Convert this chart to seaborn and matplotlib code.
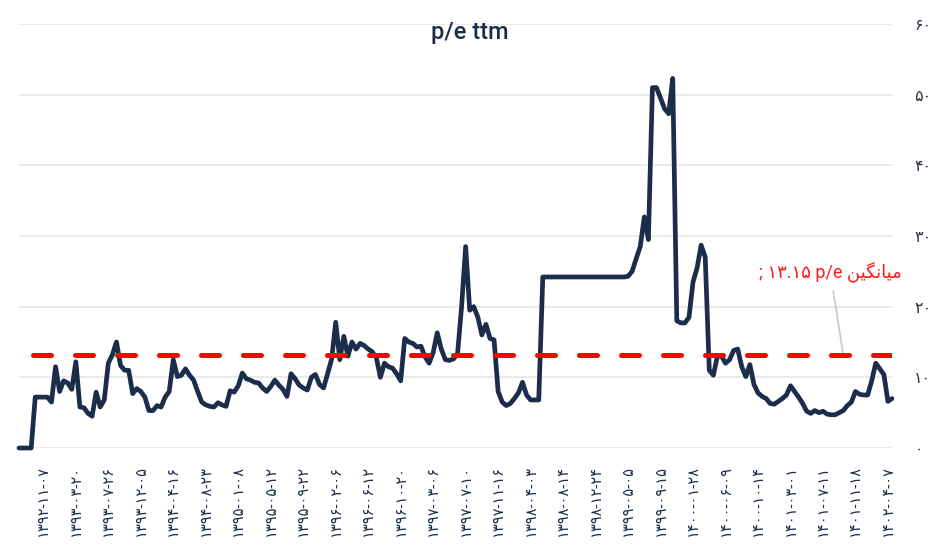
import matplotlib
matplotlib.use("Agg")
import matplotlib.pyplot as plt
import seaborn as sns
import numpy as np
import pandas as pd

# p/e ttm values (one per trading sample)
pe_ttm = [
    0, 0, 0, 0,
    7.2, 7.2, 7.2, 7.2, 6.5,
    11.5, 8.0, 9.5, 9.2, 8.3, 12.2,
    5.8, 5.7, 4.9, 4.5, 7.9, 5.8, 6.8,
    12.0, 13.2, 15.0, 11.7, 11.0, 11.0,
    7.7, 8.4, 8.0, 7.2, 5.3, 5.3, 6.0, 5.8, 7.2, 8.0,
    12.5, 10.1, 10.3, 11.2, 10.3, 9.6, 8.0,
    6.5, 6.1, 5.9, 5.8, 6.4, 6.1, 5.9, 8.1, 7.9, 8.8,
    10.6, 9.8, 9.6, 9.3, 9.2, 8.5, 8.0, 8.7, 9.6, 8.9, 8.3, 7.3,
    10.5, 9.8, 8.9, 8.5, 8.2, 10.0, 10.4, 9.0, 8.5, 10.5,
    12.6, 17.8, 12.5, 15.8, 13.0, 15.0, 14.0, 14.8, 14.5, 14.0, 13.6, 12.8,
    10.0, 12.0, 11.5, 11.3, 10.5, 9.5,
    15.5, 15.0, 14.8, 14.3, 14.4, 12.9, 12.0, 13.5, 16.3, 14.0, 12.5, 12.4, 12.6, 13.3,
    20.0, 28.5, 19.5, 20.0, 18.5, 16.0, 17.5, 15.5, 15.3,
    8.0, 6.5, 6.0, 6.3, 7.0, 7.8, 9.3, 7.5, 6.8, 6.8, 6.8,
    24.2, 24.2, 24.2, 24.2, 24.2, 24.2, 24.2, 24.2, 24.2, 24.2, 24.2,
    24.2, 24.2, 24.2, 24.2, 24.2, 24.2, 24.2, 24.2, 24.2, 24.2, 24.3,
    25.0, 26.8, 28.5, 32.7, 29.5,
    51.0, 51.0, 49.5, 48.0, 47.3, 52.3,
    18.0, 17.7, 17.7, 18.5, 23.5, 25.5, 28.7, 27.0,
    11.0, 10.3, 13.0, 13.0, 12.0, 12.5, 13.8, 14.0, 11.5, 10.1, 11.8,
    9.0, 7.8, 7.3, 7.0, 6.3, 6.2, 6.6, 7.0, 7.5, 8.8, 8.0, 7.2, 6.3,
    5.2, 4.9, 5.3, 5.0, 5.2, 4.8, 4.7, 4.7, 5.0, 5.3, 6.0, 6.5,
    8.0, 7.6, 7.5, 7.5, 9.5, 12.0, 11.2, 10.4, 6.6, 7.0,
]

tick_labels = [
    "۱۳۹۲-۱۱-۰۷", "۱۳۹۳-۰۳-۲۰", "۱۳۹۳-۰۷-۲۶", "۱۳۹۳-۱۲-۰۵", "۱۳۹۴-۰۴-۱۶",
    "۱۳۹۴-۰۸-۲۳", "۱۳۹۵-۰۱-۰۸", "۱۳۹۵-۰۵-۱۲", "۱۳۹۵-۰۹-۲۲", "۱۳۹۶-۰۲-۰۶",
    "۱۳۹۶-۰۶-۱۲", "۱۳۹۶-۱۰-۲۰", "۱۳۹۷-۰۳-۰۶", "۱۳۹۷-۰۷-۱۰", "۱۳۹۷-۱۱-۱۶",
    "۱۳۹۸-۰۴-۰۳", "۱۳۹۸-۰۸-۱۴", "۱۳۹۸-۱۲-۲۴", "۱۳۹۹-۰۵-۰۵", "۱۳۹۹-۰۹-۱۵",
    "۱۴۰۰-۰۱-۲۸", "۱۴۰۰-۰۶-۰۹", "۱۴۰۰-۱۰-۱۴", "۱۴۰۱-۰۳-۰۱", "۱۴۰۱-۰۷-۱۱",
    "۱۴۰۱-۱۱-۱۸", "۱۴۰۲-۰۴-۰۷",
]
y_ticks = [0, 10, 20, 30, 40, 50, 60]
y_tick_labels = ["۰", "۱۰", "۲۰", "۳۰", "۴۰", "۵۰", "۶۰"]

mean_pe = 13.15
# "میانگین p/e ۱۳.۱۵ ;" written in visual order with joined letter forms
mean_label = "; ۱۳.۱۵ p/e " + "\uFEE6\uFBFF\uFB95\uFEE7\uFE8E\uFBFF\uFEE3"
title = "p/e ttm"

label_start, label_step = 6, 8
navy = "#1c2d4c"

sns.set_style("white")
plt.rcParams["font.family"] = ["Roboto", "DejaVu Sans"]

df = pd.DataFrame({"idx": np.arange(len(pe_ttm)), "pe": pe_ttm})

fig = plt.figure(figsize=(9.32, 5.49), dpi=100)
ax = fig.add_axes([19 / 932, 1 - 448 / 549, 873 / 932, 424 / 549])

ax.grid(axis="y", color="#e6e6e6", lw=1.2, zorder=0)
ax.grid(axis="x", visible=False)

sns.lineplot(data=df, x="idx", y="pe", color=navy, lw=3.4, ax=ax,
             clip_on=False, zorder=3, solid_joinstyle="round")

# mean line
ax.axhline(mean_pe, xmin=0.0155, xmax=1, color="#ff0000", lw=3.6,
           dashes=(3.6, 4.8), dash_capstyle="round", zorder=4)
ax.annotate(mean_label, xy=(203, mean_pe), xytext=(-13, 83),
            textcoords="offset pixels", ha="center", va="center",
            color="#ff1a1a", fontsize=13, annotation_clip=False,
            arrowprops=dict(arrowstyle="-", color="#c8c8c8", lw=1.2,
                            shrinkA=4, shrinkB=2))

ax.set_xlim(0, len(pe_ttm) - 1)
ax.set_ylim(0, 60)
ax.set_xticks(range(label_start, len(pe_ttm), label_step))
ax.set_xticklabels(tick_labels, rotation=90, fontsize=10.5, color=navy)
ax.tick_params(axis="x", length=0, pad=12)

ax.yaxis.tick_right()
ax.set_yticks(y_ticks)
ax.set_yticklabels(y_tick_labels)
ax.tick_params(axis="y", length=0, pad=16, labelsize=11.5, labelcolor="#2d3448")
ax.set_xlabel("")
ax.set_ylabel("")
sns.despine(ax=ax, left=True, bottom=True, right=True, top=True)

fig.text(0.504, 0.94, title, ha="center", va="center", fontsize=17,
         color=navy, fontweight="medium")

fig.savefig("out.png", dpi=100)
